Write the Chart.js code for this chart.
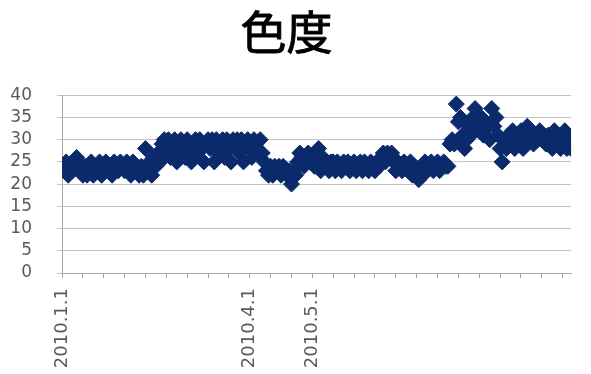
<!DOCTYPE html>
<html>
<head>
<meta charset="utf-8">
<script src="https://cdn.jsdelivr.net/npm/chart.js@4/dist/chart.umd.min.js"></script>
<style>
  html, body { margin: 0; padding: 0; background: #fff; }
  #wrap { width: 591px; height: 374px; }
</style>
</head>
<body>
<div id="wrap"><canvas id="chart" width="591" height="374"></canvas></div>
<script>
const chartTitle = '色度';

// one reading per day, starting 2010.1.1
const chroma = [
  24, 23, 25, 22, 24, 23, 25, 26, 24, 23,
  22, 24, 22, 23, 25, 22, 24, 23, 25, 22,
  24, 25, 23, 24, 22, 25, 24, 23, 25, 24,
  23, 25, 24, 22, 25, 23, 24, 22, 24, 22,
  28, 23, 25, 22, 26, 24, 27, 25, 29, 30,
  28, 30, 26, 29, 30, 25, 27, 30, 29, 26,
  30, 28, 25, 29, 30, 27, 30, 28, 25, 29,
  30, 28, 30, 25, 30, 27, 29, 30, 26, 30,
  28, 25, 30, 29, 30, 27, 30, 25, 29, 30,
  28, 26, 30, 29, 27, 30, 27, 25, 23, 22,
  24, 22, 24, 23, 24, 22, 24, 23, 22, 23,
  20, 23, 22, 25, 27, 26, 24, 26, 27, 25,
  26, 24, 25, 28, 23, 26, 24, 25, 23, 25,
  25, 23, 25, 24, 23, 25, 24, 25, 23, 24,
  25, 23, 24, 25, 23, 25, 24, 23, 25, 24,
  23, 25, 24, 26, 27, 25, 27, 26, 27, 25,
  23, 25, 24, 23, 25, 24, 23, 25, 22, 24,
  23, 21, 24, 22, 25, 23, 24, 25, 23, 24,
  25, 23, 24, 25, 24, 24, 29, 30, 29, 38,
  34, 35, 31, 28, 30, 33, 31, 35, 37, 34,
  32, 35, 31, 34, 33, 30, 37, 33, 35, 31,
  28, 25, 30, 28, 31, 29, 32, 28, 31, 30,
  32, 28, 30, 33, 31, 32, 29, 31, 30, 32,
  31, 30, 29, 31, 30, 28, 32, 30, 31, 28,
  30, 32, 28, 30, 28
];

// only these days get a date label on the x axis
const labelDays = [0, 90, 120];
const labelTexts = ['2010.1.1', '2010.4.1', '2010.5.1'];

const yMin = 0;
const yMax = 40;
const yStep = 5;
const dayStep = 10;

const points = chroma.map((v, i) => ({ x: i, y: v }));

const navy = '#0b2a6c';
const gridGray = '#c4c4c4';
const axisGray = '#a6a6a6';
const textGray = '#5a5a5a';
const titleFont = { family: '"Noto Sans CJK JP", "Noto Sans CJK SC", sans-serif', size: 46, weight: 'normal', lineHeight: 1.2 };
const titlePad = { top: 4, bottom: 36 };

// thicken the regular CJK title a little with an outline pass
const titleOutline = {
  id: 'titleOutline',
  afterDraw(chart) {
    const t = chart.titleBlock;
    const ctx = chart.ctx;
    ctx.save();
    ctx.font = `${titleFont.weight} ${titleFont.size}px ${titleFont.family}`;
    ctx.textAlign = 'center';
    ctx.textBaseline = 'middle';
    ctx.lineWidth = 0.9;
    ctx.strokeStyle = '#000';
    ctx.strokeText(chartTitle, (t.left + t.right) / 2, t.top + titlePad.top + titleFont.size * titleFont.lineHeight / 2);
    ctx.restore();
  }
};

new Chart(document.getElementById('chart'), {
  type: 'scatter',
  data: {
    datasets: [{
      label: chartTitle,
      data: points,
      pointStyle: 'rectRot',
      pointRadius: 8,
      pointBorderWidth: 1,
      backgroundColor: navy,
      borderColor: navy,
      showLine: false
    }]
  },
  options: {
    responsive: false,
    animation: false,
    layout: { padding: { left: 0, right: 18, top: 0, bottom: 0 } },
    plugins: {
      legend: { display: false },
      tooltip: { enabled: false },
      title: {
        display: true,
        text: chartTitle,
        color: '#000',
        font: titleFont,
        padding: titlePad
      }
    },
    scales: {
      x: {
        type: 'linear',
        min: 0,
        max: chroma.length - 1,
        afterFit: (s) => { s.height = 101; },
        border: { display: true, color: axisGray },
        grid: { drawOnChartArea: false, drawTicks: true, tickLength: 5, color: axisGray },
        ticks: {
          stepSize: dayStep,
          autoSkip: false,
          includeBounds: false,
          minRotation: 90,
          maxRotation: 90,
          padding: 10,
          color: textGray,
          font: { family: '"DejaVu Sans", sans-serif', size: 18, lineHeight: 1 },
          callback: (v) => {
            const k = labelDays.indexOf(v);
            return k >= 0 ? labelTexts[k] : '';
          }
        }
      },
      y: {
        min: yMin,
        max: yMax,
        afterFit: (s) => { s.width = 62; },
        border: { display: true, color: axisGray },
        grid: { color: gridGray, lineWidth: 1, tickLength: 5 },
        ticks: {
          stepSize: yStep,
          autoSkip: false,
          padding: 25,
          color: textGray,
          font: { family: '"DejaVu Sans", sans-serif', size: 17, lineHeight: 1 }
        }
      }
    }
  },
  plugins: [titleOutline]
});
</script>
</body>
</html>
